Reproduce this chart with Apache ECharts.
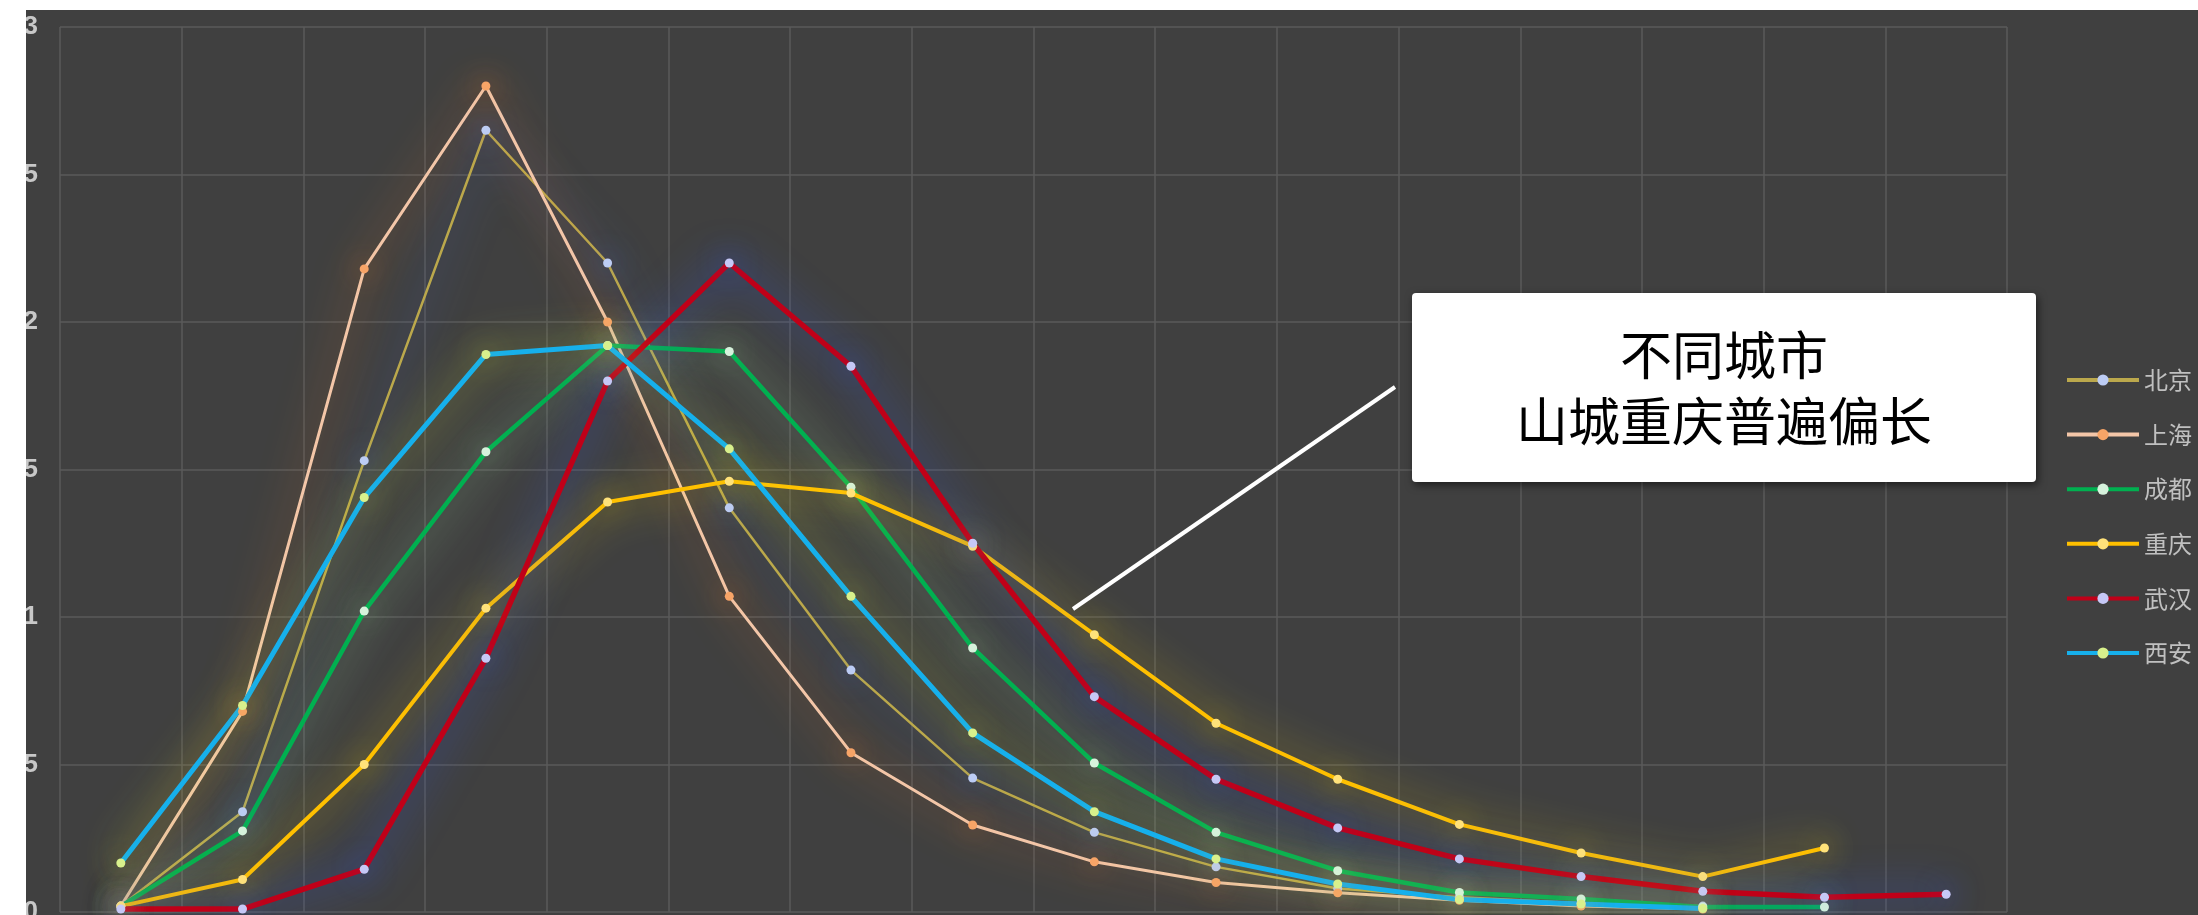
<!DOCTYPE html>
<html>
<head>
<meta charset="utf-8">
<script src="https://cdn.jsdelivr.net/npm/echarts@6/dist/echarts.min.js"></script>
<style>
html,body{margin:0;padding:0;background:#ffffff;}
#chart{width:2198px;height:915px;}
</style>
</head>
<body>
<div id="chart"></div>
<script>
// ---- data ----
var categories = ['1','2','3','4','5','6','7','8','9','10','11','12','13','14','15','16'];
var cityNames = ['北京','上海','成都','重庆','武汉','西安'];
var beijing   = [0.002, 0.034, 0.153, 0.265, 0.220, 0.137, 0.082, 0.0454, 0.027, 0.0153, 0.008, 0.005, 0.003, 0.002];
var shanghai  = [0.002, 0.068, 0.218, 0.280, 0.200, 0.107, 0.054, 0.0295, 0.017, 0.010, 0.0065, 0.004, 0.002, 0.001];
var chengdu   = [0.002, 0.0275, 0.102, 0.156, 0.192, 0.190, 0.144, 0.0895, 0.0505, 0.027, 0.014, 0.0066, 0.0044, 0.0017, 0.0017];
var chongqing = [0.002, 0.011, 0.050, 0.103, 0.139, 0.146, 0.142, 0.124, 0.094, 0.064, 0.045, 0.0297, 0.020, 0.012, 0.0217];
var wuhan     = [0.001, 0.001, 0.0145, 0.086, 0.180, 0.220, 0.185, 0.125, 0.073, 0.045, 0.0285, 0.018, 0.012, 0.007, 0.005, 0.006];
var xian      = [0.0166, 0.070, 0.1405, 0.189, 0.192, 0.157, 0.107, 0.0607, 0.034, 0.018, 0.0095, 0.0042, 0.0027, 0.0012];
var annotationText = '不同城市\n山城重庆普遍偏长';

// ---- styles ----
var seriesData = [beijing, shanghai, chengdu, chongqing, wuhan, xian];
var lineColors   = ['#bba84c', '#f3c6a8', '#00b050', '#ffc000', '#c00018', '#16b0ec'];
var markerColors = ['#bcccf4', '#f7a467', '#d6f2dc', '#ffe27a', '#c6c8f6', '#d8f08c'];
var glowColors   = ['rgba(60,110,240,1)', 'rgba(250,130,40,1)', 'rgba(170,235,170,0.9)',
                    'rgba(255,215,0,1)', 'rgba(50,90,240,1)', 'rgba(215,235,60,0.9)'];
var lineWidths   = [2.5, 3, 4.5, 4, 5.5, 5];

var chart = echarts.init(document.getElementById('chart'));
var series = cityNames.map(function(name, i){
  return {
    name: name,
    type: 'line',
    data: seriesData[i],
    symbol: 'circle',
    symbolSize: 9,
    showSymbol: true,
    lineStyle: {color: lineColors[i], width: lineWidths[i], shadowBlur: 40, shadowColor: glowColors[i]},
    itemStyle: {color: markerColors[i], borderWidth: 0, shadowBlur: 28, shadowColor: glowColors[i]},
    emphasis: {disabled: true},
    animation: false
  };
});

chart.setOption({
  backgroundColor: '#404040',
  animation: false,
  grid: {left: 60, right: 191, top: 27, bottom: 3, containLabel: false, outerBoundsMode: 'none'},
  legend: {
    orient: 'vertical',
    left: 2065,
    top: 368,
    padding: 0,
    itemWidth: 72,
    itemHeight: 14,
    itemGap: 30.6,
    data: cityNames,
    lineStyle: {width: 4, shadowBlur: 0},
    itemStyle: {shadowBlur: 0},
    textStyle: {color: '#c0c0c0', fontSize: 24, fontFamily: 'Noto Sans CJK SC'}
  },
  xAxis: {
    type: 'category',
    data: categories,
    boundaryGap: true,
    axisLine: {show: false},
    axisTick: {show: false},
    axisLabel: {show: false},
    splitLine: {show: true, lineStyle: {color: '#5a5a5a', width: 1.5}}
  },
  yAxis: {
    type: 'value',
    min: 0,
    max: 0.3,
    interval: 0.05,
    axisLine: {show: false},
    axisTick: {show: false},
    axisLabel: {color: '#c8c8c8', fontSize: 26, fontWeight: 'bold', fontFamily: 'Liberation Sans', margin: 22},
    splitLine: {show: true, lineStyle: {color: '#5a5a5a', width: 1.5}}
  },
  series: series,
  graphic: [
    {type: 'line', z: 50, shape: {x1: 1073, y1: 609, x2: 1395, y2: 387}, style: {stroke: '#ffffff', lineWidth: 4}},
    {type: 'rect', z: 60, shape: {x: 1412, y: 293, width: 624, height: 189, r: 4},
     style: {fill: '#ffffff', shadowBlur: 8, shadowOffsetX: 2, shadowOffsetY: 3, shadowColor: 'rgba(0,0,0,0.55)'}},
    {type: 'text', z: 61, x: 1724, y: 388,
     style: {text: annotationText, fill: '#000000', font: '52px "Noto Sans CJK SC"', align: 'center', verticalAlign: 'middle', lineHeight: 66}},
    {type: 'rect', z: 100, shape: {x: 0, y: 0, width: 26, height: 915}, style: {fill: '#ffffff'}},
    {type: 'rect', z: 100, shape: {x: 0, y: 0, width: 2198, height: 10}, style: {fill: '#ffffff'}}
  ]
});
</script>
</body>
</html>
